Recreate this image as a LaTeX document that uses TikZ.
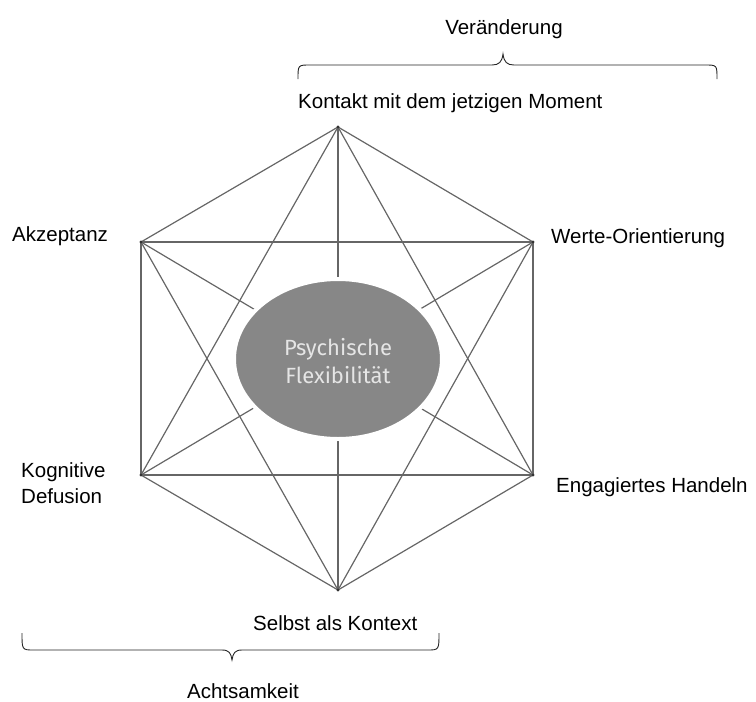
\documentclass[tikz,border=0pt]{standalone}
\usepackage{fontspec}
\setmainfont{Liberation Sans}
\newfontfamily\ellfont{Fira Sans}
\usetikzlibrary{shapes.geometric}
\begin{document}
\begin{tikzpicture}[x=1pt,y=-1pt,
  link/.style={draw=black!60,line width=1.2pt},
  vdot/.style={circle,fill=black!80,inner sep=0pt,minimum size=3.2pt},
  lbl/.style={font=\fontsize{20.5}{26}\selectfont,inner sep=0pt},
  bracepath/.style={draw=black!85,line width=0.9pt}]
\useasboundingbox (0,0) rectangle (756,702);
% vertices
\coordinate (T) at (338,127);
\coordinate (UR) at (533,242);
\coordinate (LR) at (533,475);
\coordinate (B) at (338,590);
\coordinate (LL) at (141,475);
\coordinate (UL) at (141,242);
% all connections
\foreach \a/\b in {T/UR,T/LR,T/B,T/LL,T/UL,UR/LR,UR/B,UR/LL,UR/UL,LR/B,LR/LL,LR/UL,B/LL,B/UL,LL/UL}
  \draw[link] (\a) -- (\b);
% central ellipse
\node (center) [ellipse,fill=black!47,draw=white,line width=4pt,minimum width=208pt,minimum height=160pt,inner sep=0pt] at (338,359) {};
\node (ctext) [align=center,text=black!10,font=\ellfont\fontsize{22}{28}\selectfont] at (338,361) {Psychische\\Flexibilität};
% vertex dots
\foreach \v in {T,UR,LR,B,LL,UL} \node[vdot] (d\v) at (\v) {};
% labels
\node (kontakt) [lbl,anchor=base west] at (298,108) {Kontakt mit dem jetzigen Moment};
\node (akz) [lbl,anchor=base west] at (12,241) {Akzeptanz};
\node (werte) [lbl,anchor=base west] at (551,243) {Werte-Orientierung};
\node (kog) [lbl,anchor=base west] at (21,477) {Kognitive};
\node (def) [lbl,anchor=base west] at (21,503) {Defusion};
\node (eng) [lbl,anchor=base west] at (556,492) {Engagiertes Handeln};
\node (selbst) [lbl,anchor=base west] at (253,630) {Selbst als Kontext};
\node (ver) [lbl,anchor=base] at (504,34) {Veränderung};
\node (acht) [lbl,anchor=base] at (243,698) {Achtsamkeit};
% braces
\draw[bracepath] (298,79) .. controls (298,65) .. (310,65) -- (492,65)
  .. controls (499,65) and (502,62) .. (503,54)
  .. controls (504,62) and (507,65) .. (514,65) -- (705,65)
  .. controls (717,65) .. (717,79);
\draw[bracepath] (22,633) .. controls (22,650) .. (34,650) -- (222,650)
  .. controls (229,650) and (231,653) .. (232,660)
  .. controls (233,653) and (235,650) .. (242,650) -- (427,650)
  .. controls (439,650) .. (439,633);
\end{tikzpicture}
\end{document}
